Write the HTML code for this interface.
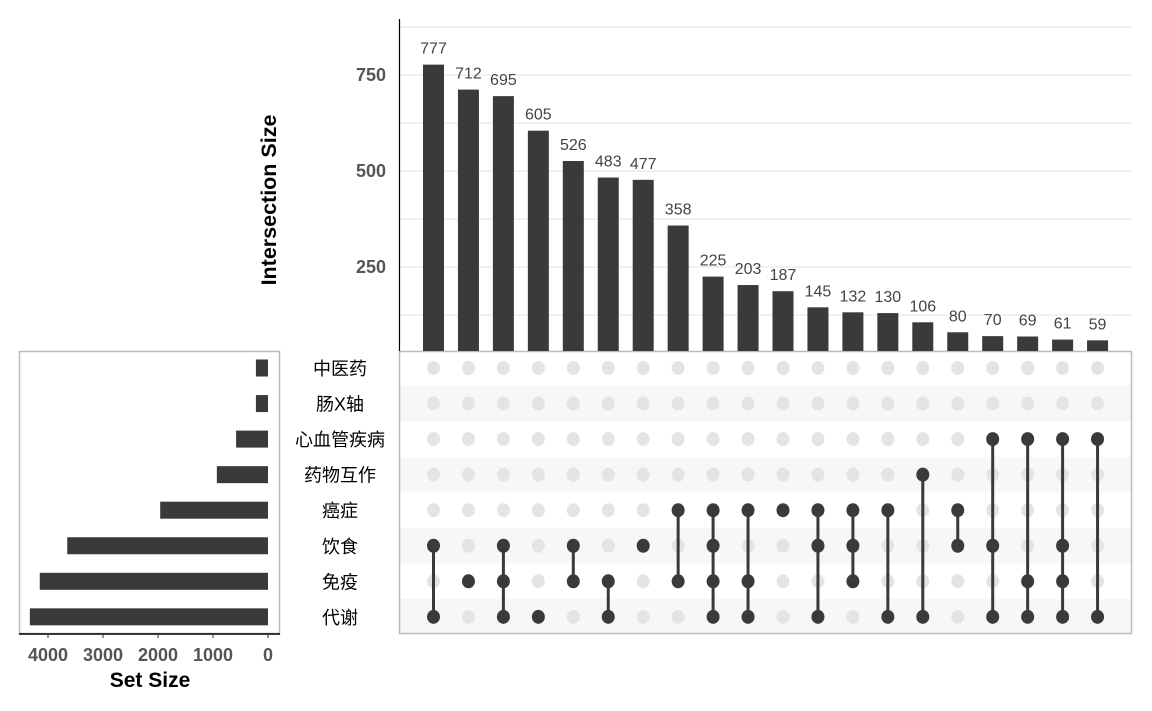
<!DOCTYPE html>
<html><head><meta charset="utf-8">
<style>
html,body{margin:0;padding:0;background:#fff;}
svg{display:block;font-family:"Liberation Sans","Noto Sans CJK SC",sans-serif;}
</style></head>
<body>
<svg id="c" width="1152" height="711" viewBox="0 0 1152 711" xmlns="http://www.w3.org/2000/svg"></svg>
<script>
const sets = ["中医药","肠X轴","心血管疾病","药物互作","癌症","饮食","免疫","代谢"];
const setSizes = [220,220,580,930,1960,3650,4150,4330];
const interSizes = [777,712,695,605,526,483,477,358,225,203,187,145,132,130,106,80,70,69,61,59];
const members = [[5,7],[6],[5,6,7],[7],[5,6],[6,7],[5],[4,6],[4,5,6,7],[4,6,7],[4],[4,5,7],[4,5,6],[4,7],[3,7],[4,5],[2,5,7],[2,6,7],[2,5,6,7],[2,7]];
const yTicks = [250,500,750];
const ySteps = [125,250,375,500,625,750,875];
const xTicks = [0,1000,2000,3000,4000];

const svg = document.getElementById('c');
const NS = 'http://www.w3.org/2000/svg';
function mk(tag, attrs, parent){const e=document.createElementNS(NS,tag);for(const k in attrs)e.setAttribute(k,attrs[k]);(parent||svg).appendChild(e);return e;}

const colX = i => 433.5 + i*34.95;
const yS = v => 363 - v*0.384;
const rowY = j => 368 + j*35.55;
const xS = v => 268 - v*0.055;

for(let j=0;j<sets.length;j++){
  if(j%2===1){
    const r=mk('rect',{x:400,y:rowY(j)-17.8,width:732,height:35.55,fill:'#f7f7f7'});
    
    
  }
}
const mb=mk('rect',{x:399.5,y:351.5,width:732,height:282,fill:'none',stroke:'#bbb','stroke-width':1.5});



ySteps.forEach(v=>{
  const l=mk('line',{x1:400,x2:1132,y1:yS(v),y2:yS(v),stroke:'#e3e3e3','stroke-width':1});
  
  
});
const ya=mk('line',{x1:399.5,x2:399.5,y1:19,y2:351,stroke:'#000','stroke-width':1.2});


yTicks.forEach(v=>{
  const t=mk('text',{x:386,y:yS(v)+6,'text-anchor':'end','font-size':18,'font-weight':'bold',fill:'#555'});
  t.textContent=v;
  
  
});
const yt=mk('text',{x:0,y:0,transform:'translate(276,200) rotate(-90)','text-anchor':'middle','font-size':21.5,'font-weight':'bold',fill:'#000'});
yt.textContent='Intersection Size';



interSizes.forEach((v,i)=>{
  const top=yS(v);
  const b=mk('rect',{x:colX(i)-10.5,y:top,width:21,height:351-top,fill:'#3a3a3a'});
  
  
  const t=mk('text',{x:colX(i),y:top-11,'text-anchor':'middle','font-size':16,fill:'#444'});
  t.textContent=v;
  
  
});

members.forEach((m,i)=>{
  const cx=colX(i);
  for(let j=0;j<sets.length;j++){
    if(!m.includes(j)){
      const d=mk('ellipse',{cx:cx,cy:rowY(j),rx:6.5,ry:7,fill:'#e4e4e4'});
      
      
    }
  }
  const mn=Math.min(...m), mx=Math.max(...m);
  if(mx>mn){
    const l=mk('line',{x1:cx,x2:cx,y1:rowY(mn),y2:rowY(mx),stroke:'#3a3a3a','stroke-width':3});
    
    
  }
  m.forEach(j=>{
    const d=mk('ellipse',{cx:cx,cy:rowY(j),rx:6.5,ry:7,fill:'#3a3a3a'});
    
    
  });
});

sets.forEach((s,j)=>{
  const t=mk('text',{x:340,y:rowY(j)+7,'text-anchor':'middle','font-size':18,fill:'#000'});
  t.textContent=s;
  
  
});

const sb=mk('rect',{x:19.5,y:351.5,width:260,height:282,fill:'none',stroke:'#bbb','stroke-width':1.5});


setSizes.forEach((v,j)=>{
  const r=mk('rect',{x:xS(v),y:rowY(j)-8.5,width:268-xS(v),height:17,fill:'#3a3a3a'});
  
  
});
const xa=mk('line',{x1:19,x2:280,y1:634,y2:634,stroke:'#000','stroke-width':1.5});


xTicks.forEach(v=>{
  const tk=mk('line',{x1:xS(v),x2:xS(v),y1:634,y2:638,stroke:'#333','stroke-width':1});
  
  
  const t=mk('text',{x:xS(v),y:661,'text-anchor':'middle','font-size':18,'font-weight':'bold',fill:'#555'});
  t.textContent=v;
  
  
});
const xt=mk('text',{x:150,y:687,'text-anchor':'middle','font-size':21,'font-weight':'bold',fill:'#000'});
xt.textContent='Set Size';


</script>
</body></html>
